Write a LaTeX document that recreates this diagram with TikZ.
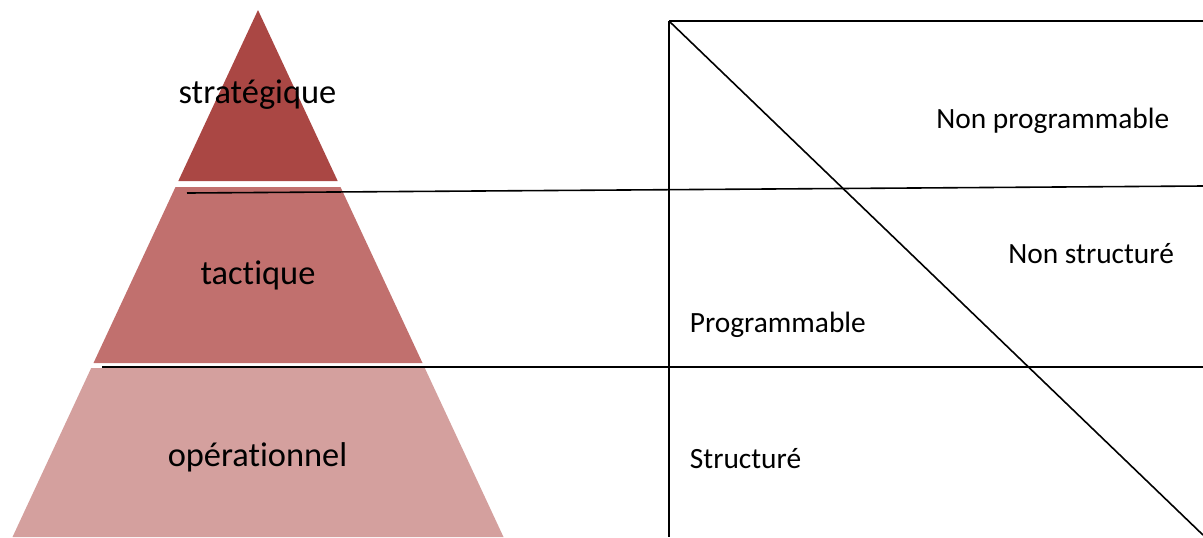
\documentclass[tikz,border=0pt]{standalone}
\usepackage{fontspec}
\setmainfont{Carlito}[Ligatures=NoCommon,RawFeature=-liga]
\definecolor{stratred}{RGB}{170,71,68}
\definecolor{tactred}{RGB}{193,112,110}
\definecolor{operred}{RGB}{212,160,158}

\begin{document}
\begin{tikzpicture}[x=0.5pt,y=-0.5pt,
  level/.style={anchor=base,inner sep=0pt,font=\fontsize{17.2}{20}\selectfont},
  kind/.style={anchor=base west,inner sep=0pt,font=\fontsize{14.7}{17}\selectfont},
  rule/.style={line width=0.8pt}]
\useasboundingbox (0,0) rectangle (1203,537);
\clip (0,0) rectangle (1203,537);

% pyramid
\fill[stratred] (258,10) -- (337.7,181) -- (178.3,181) -- cycle;
\fill[tactred] (175.5,187) -- (340.5,187) -- (422.5,363) -- (93.5,363) -- cycle;
\fill[operred] (91.2,368) -- (424.8,368) -- (503.5,537) -- (12.5,537) -- cycle;

\draw (257.5,103) node[level] (strat) {stratégique} ;
\draw (258,284) node[level] (tact) {tactique} ;
\draw (257.5,466) node[level] (oper) {opérationnel} ;

% grid
\coordinate (corner) at (669,21) ;
\coordinate (topend) at (1203,21) ;
\coordinate (leftend) at (669,537) ;
\coordinate (diagend) at (1203,535) ;
\draw[rule] (corner) to (topend)   (corner) to (leftend) ;
\draw[rule] (corner) to (diagend) ;

\coordinate (upa) at (187,193) ;
\coordinate (upb) at (1203,186) ;
\draw[rule] (upa) to (upb) ;

\coordinate (lowa) at (102,367) ;
\coordinate (lowb) at (1203,367) ;
\draw[rule] (lowa) to (lowb) ;

\draw (936,128) node[kind] (nprog) {Non programmable} ;
\draw (1008,263) node[kind] (nstruct) {Non structuré} ;
\draw (689.5,332) node[kind] (prog) {Programmable} ;
\draw (689.5,468) node[kind] (struct) {Structuré} ;

\end{tikzpicture}
\end{document}
